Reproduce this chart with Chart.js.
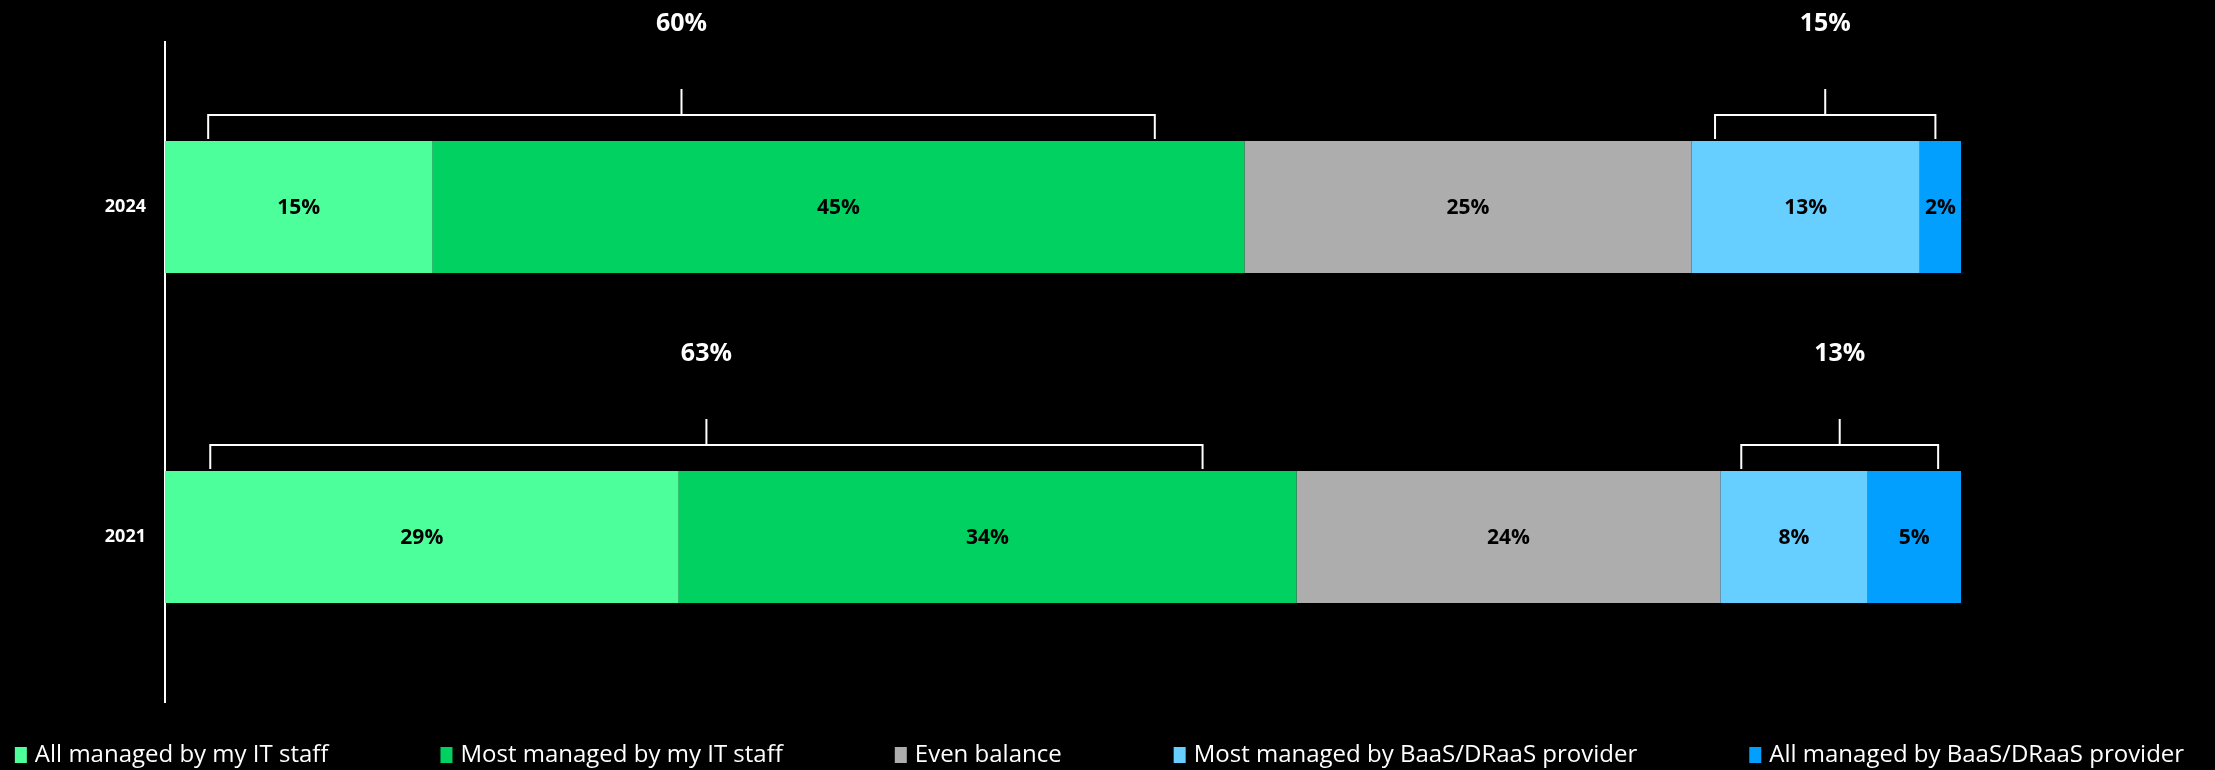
<!DOCTYPE html>
<html>
<head>
<meta charset="utf-8">
<script src="https://cdn.jsdelivr.net/npm/chart.js@4.4.1/dist/chart.umd.min.js"></script>
<style>
  html, body { margin: 0; padding: 0; background: #000; }
  #wrap { width: 2215px; height: 770px; }
</style>
</head>
<body>
<div id="wrap"><canvas id="c" width="2215" height="770"></canvas></div>
<script>
// ---- Data ----
const categories = ['2024', '2021'];
const seriesNames = [
  'All managed by my IT staff',
  'Most managed by my IT staff',
  'Even balance',
  'Most managed by BaaS/DRaaS provider',
  'All managed by BaaS/DRaaS provider'
];
// labels show rounded values
const allManagedIT = [14.9, 28.6];
const mostManagedIT = [45.2, 34.4];
const evenBalance = [24.9, 23.6];
const mostManagedProvider = [12.7, 8.2];
const allManagedProvider = [2.3, 5.2];
const itStaffTotal = [60, 63];
const providerTotal = [15, 13];

// ---- Styles ----
const colors = ['#4DFF9B', '#00D161', '#ADADAD', '#66CFFF', '#039FFF'];
const FONT = '"Open Sans", "Noto Sans", sans-serif';

const seriesValues = [allManagedIT, mostManagedIT, evenBalance, mostManagedProvider, allManagedProvider];

const bgPlugin = {
  id: 'bg',
  beforeDraw(chart) {
    const ctx = chart.ctx;
    ctx.save();
    ctx.fillStyle = '#000';
    ctx.fillRect(0, 0, chart.width, chart.height);
    ctx.restore();
  }
};

const labelsPlugin = {
  id: 'segLabels',
  afterDatasetsDraw(chart) {
    const ctx = chart.ctx;
    ctx.save();
    ctx.font = 'bold 21px ' + FONT;
    ctx.fillStyle = '#000';
    ctx.textAlign = 'center';
    ctx.textBaseline = 'middle';
    chart.data.datasets.forEach((ds, di) => {
      const meta = chart.getDatasetMeta(di);
      meta.data.forEach((el, i) => {
        const x = (el.x + el.base) / 2;
        ctx.fillText(Math.round(ds.data[i]) + '%', x, el.y + 1);
      });
    });
    ctx.restore();
  }
};

const bracketPlugin = {
  id: 'brackets',
  afterDatasetsDraw(chart) {
    const ctx = chart.ctx;
    const xs = chart.scales.x;
    const groups = [
      { segs: [0, 1], totals: itStaffTotal, insetL: 0.04, insetR: 0.083 },
      { segs: [3, 4], totals: providerTotal, insetL: 0.087, insetR: 0.095 }
    ];
    ctx.save();
    ctx.strokeStyle = '#fff';
    ctx.lineWidth = 2;
    ctx.fillStyle = '#fff';
    ctx.font = 'bold 25px ' + FONT;
    ctx.textAlign = 'center';
    ctx.textBaseline = 'middle';
    categories.forEach((cat, i) => {
      const el = chart.getDatasetMeta(0).data[i];
      const barTop = el.y - el.height / 2;
      groups.forEach(g => {
        let start = 0;
        for (let k = 0; k < g.segs[0]; k++) start += seriesValues[k][i];
        let end = start;
        g.segs.forEach(k => end += seriesValues[k][i]);
        const w = end - start;
        const x1 = xs.getPixelForValue(start + w * g.insetL);
        const x2 = xs.getPixelForValue(end - w * g.insetR);
        const xc = (x1 + x2) / 2;
        const yLine = barTop - 26;
        ctx.beginPath();
        ctx.moveTo(x1, barTop - 2);
        ctx.lineTo(x1, yLine);
        ctx.lineTo(x2, yLine);
        ctx.lineTo(x2, barTop - 2);
        ctx.moveTo(xc, yLine);
        ctx.lineTo(xc, barTop - 52);
        ctx.stroke();
        ctx.fillText(g.totals[i] + '%', xc, barTop - 117);
      });
    });
    ctx.restore();
  }
};

const legendPlugin = {
  id: 'customLegend',
  afterDraw(chart) {
    const ctx = chart.ctx;
    ctx.save();
    ctx.font = '24px ' + FONT;
    const boxW = 12, boxH = 16, boxGap = 8, itemGap = 112;
    const widths = chart.data.datasets.map(ds => ctx.measureText(ds.label).width);
    let total = 0;
    widths.forEach((w, i) => { total += boxW + boxGap + w + (i < widths.length - 1 ? itemGap : 0); });
    let x = (chart.width - total) / 2 - 8;
    const y = 755;
    ctx.textBaseline = 'middle';
    ctx.textAlign = 'left';
    chart.data.datasets.forEach((ds, i) => {
      ctx.fillStyle = ds.backgroundColor;
      ctx.fillRect(x, y - boxH / 2, boxW, boxH);
      ctx.fillStyle = '#fff';
      ctx.fillText(ds.label, x + boxW + boxGap, y);
      x += boxW + boxGap + widths[i] + itemGap;
    });
    ctx.restore();
  }
};

new Chart(document.getElementById('c'), {
  type: 'bar',
  data: {
    labels: categories,
    datasets: seriesNames.map((name, i) => ({
      label: name,
      data: seriesValues[i],
      backgroundColor: colors[i],
      borderWidth: 0,
      barPercentage: 0.4,
      categoryPercentage: 1.0
    }))
  },
  options: {
    indexAxis: 'y',
    responsive: false,
    animation: false,
    devicePixelRatio: 1,
    layout: { padding: { top: 42, right: 254, bottom: 68, left: 0 } },
    plugins: {
      legend: { display: false },
      tooltip: { enabled: false }
    },
    scales: {
      x: {
        stacked: true,
        min: 0,
        max: 100,
        display: false
      },
      y: {
        stacked: true,
        afterFit(s) { s.width = 165; },
        grid: { display: true, drawOnChartArea: false, drawTicks: false },
        border: { display: true, color: '#fff', width: 2 },
        ticks: {
          color: '#fff',
          padding: 19,
          font: { family: FONT, size: 18, weight: 'bold' }
        }
      }
    }
  },
  plugins: [bgPlugin, labelsPlugin, bracketPlugin, legendPlugin]
});
</script>
</body>
</html>
